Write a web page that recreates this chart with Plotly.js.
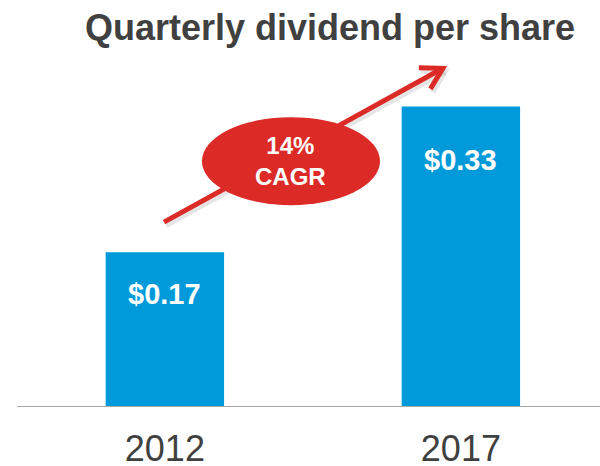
<!DOCTYPE html>
<html>
<head>
<meta charset="utf-8">
<script src="https://cdn.plot.ly/plotly-3.0.1.min.js"></script>
<style>html,body{margin:0;padding:0;background:#fff;}#chart{width:600px;height:466px;}</style>
</head>
<body>
<div id="chart"></div>
<script>
const years = ["2012", "2017"];
const dividends = [0.17, 0.33];
const valueLabels = ["$0.17", "$0.33"];
const cagrLabel = "14%<br>CAGR";
const chartTitle = "Quarterly dividend per share";

const FONT = "Arial";
const barColor = "#009ADB";
const red = "#DC2A27";
const labelShift = [-42, -53];

const W = 600, H = 466, MB = 59;
const xRange = [-0.557, 1.470];
const yRange = [0, 0.447];
const pxX = W / (xRange[1] - xRange[0]);
const pxY = (H - MB) / (yRange[1] - yRange[0]);

const trace = {
  type: "bar",
  x: [0, 1],
  y: dividends,
  width: 0.4,
  marker: {color: barColor, line: {width: 0}},
  hoverinfo: "skip"
};

// CAGR arrow: tail and tip in data units; chevron arms computed from the direction
const arrowTail = [-0.003, 0.203];
const arrowTip = [0.939, 0.372];
function arrowPath(off) {
  const tx = arrowTail[0] * pxX, ty = arrowTail[1] * pxY;
  const hx = arrowTip[0] * pxX, hy = arrowTip[1] * pxY;
  const ang = Math.atan2(ty - hy, tx - hx);
  const L = 24, A = 30 * Math.PI / 180;
  const a1 = [hx + L * Math.cos(ang + A), hy + L * Math.sin(ang + A)];
  const a2 = [hx + L * Math.cos(ang - A), hy + L * Math.sin(ang - A)];
  const pts = [[tx, ty], [hx, hy], null, a1, [hx, hy], a2];
  return {
    x: pts.map(p => p ? (p[0] + off[0]) / pxX : null),
    y: pts.map(p => p ? (p[1] + off[1]) / pxY : null)
  };
}
const sp = arrowPath([2, -3]);
const shadow = {
  type: "scatter", mode: "lines", x: sp.x, y: sp.y, connectgaps: false,
  line: {color: "rgba(0,0,0,0.10)", width: 6}, hoverinfo: "skip"
};
const ap = arrowPath([0, 0]);
const arrow = {
  type: "scatter", mode: "lines", x: ap.x, y: ap.y, connectgaps: false,
  line: {color: red, width: 5}, hoverinfo: "skip"
};

const annotations = valueLabels.map((t, i) => ({
  x: i, y: dividends[i], xref: "x", yref: "y",
  text: "<b>" + t + "</b>", showarrow: false,
  yanchor: "middle", yshift: labelShift[i],
  font: {family: FONT, size: 29, color: "#ffffff"}
}));
annotations.push({
  x: 0.426, y: 0.27, xref: "x", yref: "y",
  text: "<b>" + cagrLabel + "</b>", showarrow: false,
  font: {family: FONT, size: 24, color: "#ffffff"}
});

const layout = {
  width: W, height: H,
  margin: {l: 0, r: 0, t: 0, b: MB},
  paper_bgcolor: "#ffffff", plot_bgcolor: "#ffffff",
  showlegend: false,
  title: {
    text: "<b>" + chartTitle + "</b>",
    x: 0.55, xanchor: "center",
    y: 1 - 27/466, yanchor: "middle", yref: "container",
    font: {family: FONT, size: 36, color: "#404040"}
  },
  xaxis: {
    range: xRange,
    tickmode: "array", tickvals: [0, 1], ticktext: years,
    tickfont: {family: FONT, size: 36, color: "#404040"},
    showline: false, showgrid: false, zeroline: false,
    ticks: "", ticklabelstandoff: 17, automargin: false, fixedrange: true
  },
  yaxis: {
    range: yRange,
    visible: false, showgrid: false, zeroline: false, fixedrange: true
  },
  shapes: [
    {type: "line", xref: "paper", yref: "y", x0: 17/600, x1: 1, y0: 0, y1: 0,
     line: {color: "#A6A6A6", width: 2}, layer: "above"},
    {type: "circle", xref: "x", yref: "y", xsizemode: "pixel", ysizemode: "pixel",
     xanchor: 0.426, yanchor: 0.27, x0: -89, x1: 89, y0: -44, y1: 44,
     fillcolor: red, line: {width: 0}, layer: "above"}
  ],
  annotations: annotations
};

Plotly.newPlot("chart", [trace, shadow, arrow], layout, {staticPlot: true, displayModeBar: false});
</script>
</body>
</html>
